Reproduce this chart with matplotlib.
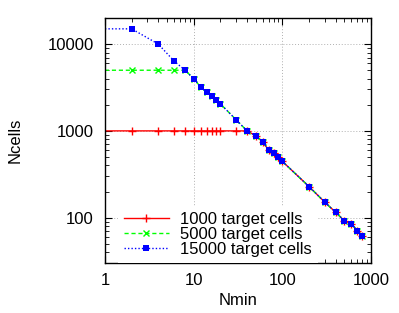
import matplotlib
matplotlib.use("Agg")
import matplotlib.pyplot as plt
from matplotlib.ticker import LogLocator, NullFormatter, FixedLocator, FixedFormatter

plt.rcParams['font.family'] = ['Liberation Sans', 'DejaVu Sans']

nmin = [1, 2, 4, 6, 8, 10, 12, 14, 16, 18, 20, 30, 40, 50, 60, 70, 80, 90,
        100, 200, 300, 400, 500, 600, 700, 800]
tail = [880, 750, 600, 550, 505, 445, 228, 151, 115, 92, 85, 71, 62]
ncells_1000 = [1000] * 13 + tail
ncells_5000 = [5000, 5000, 5000, 5000, 5000, 4000, 3200, 2800, 2500, 2250,
               2050, 1350, 1000] + tail
ncells_15000 = [15000, 15000, 10000, 6400, 5000, 4000, 3200, 2800, 2500, 2250,
                2050, 1350, 1000] + tail
labels = ["1000 target cells", "5000 target cells", "15000 target cells"]
xticks = [1, 10, 100, 1000]
xticklabels = ["1", "10", "100", "1000"]
yticks = [100, 1000, 10000]
yticklabels = ["100", "1000", "10000"]

fig = plt.figure(figsize=(3.99, 3.13), dpi=100)
ax = fig.add_axes([0.263, 0.1597, 0.667, 0.7828])

ax.plot(nmin, ncells_1000, color='#ff0000', lw=1.0, ls='-', marker='+',
        ms=5.5, mew=1.0, markevery=slice(1, None), label=labels[0])
ax.plot(nmin, ncells_5000, color='#00ff00', lw=1.0, ls=(0, (3, 2)), marker='x',
        ms=4.5, mew=1.0, markevery=slice(1, None), label=labels[1])
ax.plot(nmin, ncells_15000, color='#0000ff', lw=1.0, ls=(0, (1, 1.5)), marker='s',
        ms=4.8, mew=0, markevery=slice(1, None), label=labels[2])

ax.set_xscale('log')
ax.set_yscale('log')
ax.set_xlim(1, 1000)
ax.set_ylim(30, 20000)

ax.xaxis.set_major_locator(FixedLocator(xticks))
ax.xaxis.set_major_formatter(FixedFormatter(xticklabels))
ax.yaxis.set_major_locator(FixedLocator(yticks))
ax.yaxis.set_major_formatter(FixedFormatter(yticklabels))
ax.xaxis.set_minor_locator(LogLocator(base=10, subs=range(2, 10)))
ax.yaxis.set_minor_locator(LogLocator(base=10, subs=range(2, 10)))
ax.xaxis.set_minor_formatter(NullFormatter())
ax.yaxis.set_minor_formatter(NullFormatter())

ax.tick_params(which='both', direction='in', top=True, right=True, labelsize=12)
ax.tick_params(which='major', length=5, width=0.8, pad=8)
ax.tick_params(which='minor', length=3, width=0.6)
ax.tick_params(axis='x', which='major', pad=7)
for s in ax.spines.values():
    s.set_linewidth(1.0)

ax.grid(True, which='major', color='#b0b0b0', ls=(0, (1, 2)), lw=0.7)
ax.set_axisbelow(True)

ax.set_xlabel("Nmin", fontsize=12, labelpad=4)
ax.set_ylabel("Ncells", fontsize=12, labelpad=18)

leg = ax.legend(loc='lower left', bbox_to_anchor=(0.049, 0.0), fontsize=12,
                handlelength=2.7, handletextpad=0.7, labelspacing=0.0,
                borderaxespad=0, borderpad=0.35, frameon=True, fancybox=False)
leg.get_frame().set_edgecolor('none')
leg.get_frame().set_facecolor('white')
leg.get_frame().set_alpha(1.0)

fig.savefig("out.png", dpi=100)
